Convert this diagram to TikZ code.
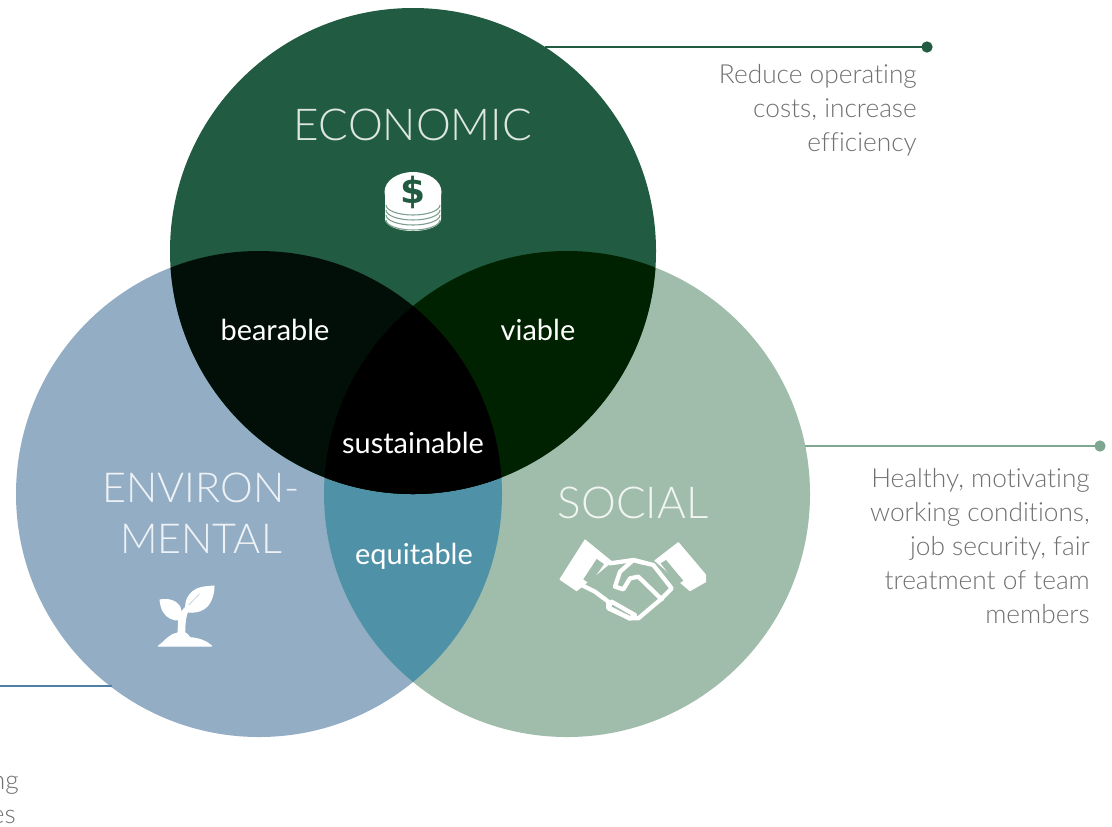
\documentclass[tikz,border=0pt]{standalone}
\usepackage{fontspec}
\setmainfont{Lato}
\newfontfamily\thinfont[Ligatures=NoCommon]{Lato Light}
\newfontfamily\signfont{DejaVu Sans}
\definecolor{econfill}{HTML}{215B42}
\definecolor{envfill}{HTML}{92ADC4}
\definecolor{socfill}{HTML}{A0BCAB}
\definecolor{bearfill}{HTML}{020F08}
\definecolor{viabfill}{HTML}{012200}
\definecolor{equifill}{HTML}{4F92A8}
\definecolor{envline}{HTML}{4F7FA5}
\definecolor{socline}{HTML}{7FA690}
\definecolor{notegray}{HTML}{707070}
\tikzset{
  headlabel/.style={font=\thinfont\fontsize{33}{38}\selectfont,text=white,align=center,text opacity=.85},
  overlaplabel/.style={font=\fontsize{21.7}{25}\selectfont,text=white},
  notelabel/.style={font=\thinfont\fontsize{19.7}{25.5}\selectfont,text=notegray,align=right},
  leader/.style={line width=2.1pt},
  enddot/.style={circle,inner sep=0pt,minimum size=8.5pt},
  iconpart/.style={fill=white,draw=white,line width=.8pt,line join=round}
}
\begin{document}
\begin{tikzpicture}[x=0.75pt,y=-0.75pt]
\useasboundingbox (0,0) rectangle (1112,826);
\coordinate (econ) at (413,251);% circle centres, r=243px
\coordinate (env) at (259,494);
\coordinate (soc) at (567,494);
\fill[envfill] (env) circle [radius=182.25pt];
\fill[socfill] (soc) circle [radius=182.25pt];
\begin{scope}
\clip (env) circle [radius=182.25pt];
\fill[equifill] (soc) circle [radius=182.25pt];
\end{scope}
\fill[econfill] (econ) circle [radius=182.25pt];
\begin{scope}
\clip (econ) circle [radius=182.25pt];
\fill[bearfill] (env) circle [radius=182.25pt];
\fill[viabfill] (soc) circle [radius=182.25pt];
\clip (env) circle [radius=182.25pt];
\fill[black] (soc) circle [radius=182.25pt];
\end{scope}
% leader lines
\coordinate (econstart) at (545,47);
\node[enddot,fill=econfill] (econdot) at (927,47) {};
\draw[leader,econfill] (econstart) -- (econdot.center);
\coordinate (socstart) at (805,446);
\node[enddot,fill=socline] (socdot) at (1100,446) {};
\draw[leader,socline] (socstart) -- (socdot.center);
\coordinate (envstart) at (0,686);
\coordinate (envend) at (112,686);
\draw[leader,envline] (envstart) -- (envend);
% labels
\node[headlabel] (econlabel) at (413,125) {ECONOMIC};
\node[headlabel,font=\thinfont\fontsize{31}{38}\selectfont] (envlabel) at (201,513) {ENVIRON-\\MENTAL};
\node[headlabel] (soclabel) at (633,503) {SOCIAL};
\node[overlaplabel] (bearlabel) at (275,330) {bearable};
\node[overlaplabel] (viablabel) at (538,330) {viable};
\node[overlaplabel] (sustlabel) at (413,443) {sustainable};
\node[overlaplabel] (equilabel) at (414,556) {equitable};
\node[notelabel,anchor=north east,inner sep=0pt] (econnote) at (917,64) {Reduce operating\\costs, increase\\efficiency};
\node[notelabel,anchor=north east,inner sep=0pt] (socnote) at (1090,468) {Healthy, motivating\\working conditions,\\job security, fair\\treatment of team\\members};
\node[notelabel,anchor=base east,inner sep=0pt] (envnote1) at (19,789) {ng};
\node[notelabel,anchor=base east,inner sep=0pt] (envnote2) at (16,823) {es};
% coin stack
\begin{scope}[shift={(413,0)}]
\fill[white] (-28,195) -- (-28,219) arc [x radius=28,y radius=12,start angle=180,end angle=0] -- (28,195) -- cycle;
\foreach \ypos in {205,210,215,220} {\draw[econfill!60!white,line width=.8pt] (-27,\ypos) arc [x radius=27,y radius=10,start angle=180,end angle=0];}
\fill[white] (0,192) ellipse [x radius=28.5,y radius=20];
\node[text=econfill,font=\signfont\bfseries\fontsize{27}{27}\selectfont,inner sep=0pt] (coinsign) at (0,192) {\$};
\end{scope}
% seedling, in 1/3px steps
\begin{scope}[shift={(140,570)},x=0.25pt,y=-0.25pt]
\path[iconpart] (55,228) .. controls (75,215) and (85,195) .. (110,190) .. controls (125,178) and (140,188) .. (150,203) .. controls (180,205) and (200,215) .. (215,228) -- cycle;
\path[iconpart] (114,195) -- (116,150) .. controls (120,130) and (130,115) .. (142,108) -- (150,112) .. controls (138,130) and (134,150) .. (134,195) -- cycle;
\path[iconpart] (222,48) .. controls (200,50) and (175,50) .. (158,65) .. controls (140,80) and (132,105) .. (140,125) .. controls (165,130) and (195,122) .. (208,100) .. controls (218,85) and (222,65) .. (222,48) -- cycle;
\path[iconpart] (60,90) .. controls (85,85) and (110,92) .. (120,112) .. controls (125,125) and (125,138) .. (120,150) .. controls (100,152) and (80,142) .. (70,125) .. controls (63,113) and (62,100) .. (60,90) -- cycle;
\draw[envfill!60!white,line width=.5pt] (146,105) -- (178,72);
\end{scope}
% handshake, in 1/3px steps
\begin{scope}[shift={(540,520)},x=0.25pt,y=-0.25pt]
\path[iconpart] (135,60) -- (215,125) -- (110,212) -- (60,178) -- cycle;
\fill[socfill] (170,117) -- (192,132) -- (150,192) -- (130,178) -- cycle;
\path[iconpart] (415,68) -- (497,165) -- (497,185) -- (450,212) -- (345,122) -- cycle;
\fill[socfill] (378,120) -- (430,182) -- (412,194) -- (362,130) -- cycle;
\draw[white,line width=3.2pt,line join=round,line cap=round] (210,130) -- (280,120) -- (340,135) -- (395,205) -- (360,240) -- (295,295) -- (270,295) -- (205,265) -- (205,245) -- (165,215) -- (125,195);
\draw[white,line width=3.2pt,line join=round,line cap=round] (310,128) -- (280,120) -- (240,155) -- (225,200) -- (250,208) -- (270,175) -- (295,170) -- (365,238);
\draw[white,line width=3.2pt,line join=round] (215,245) -- (285,285) -- (270,296) -- (205,262) -- cycle;
\end{scope}
\end{tikzpicture}
\end{document}
